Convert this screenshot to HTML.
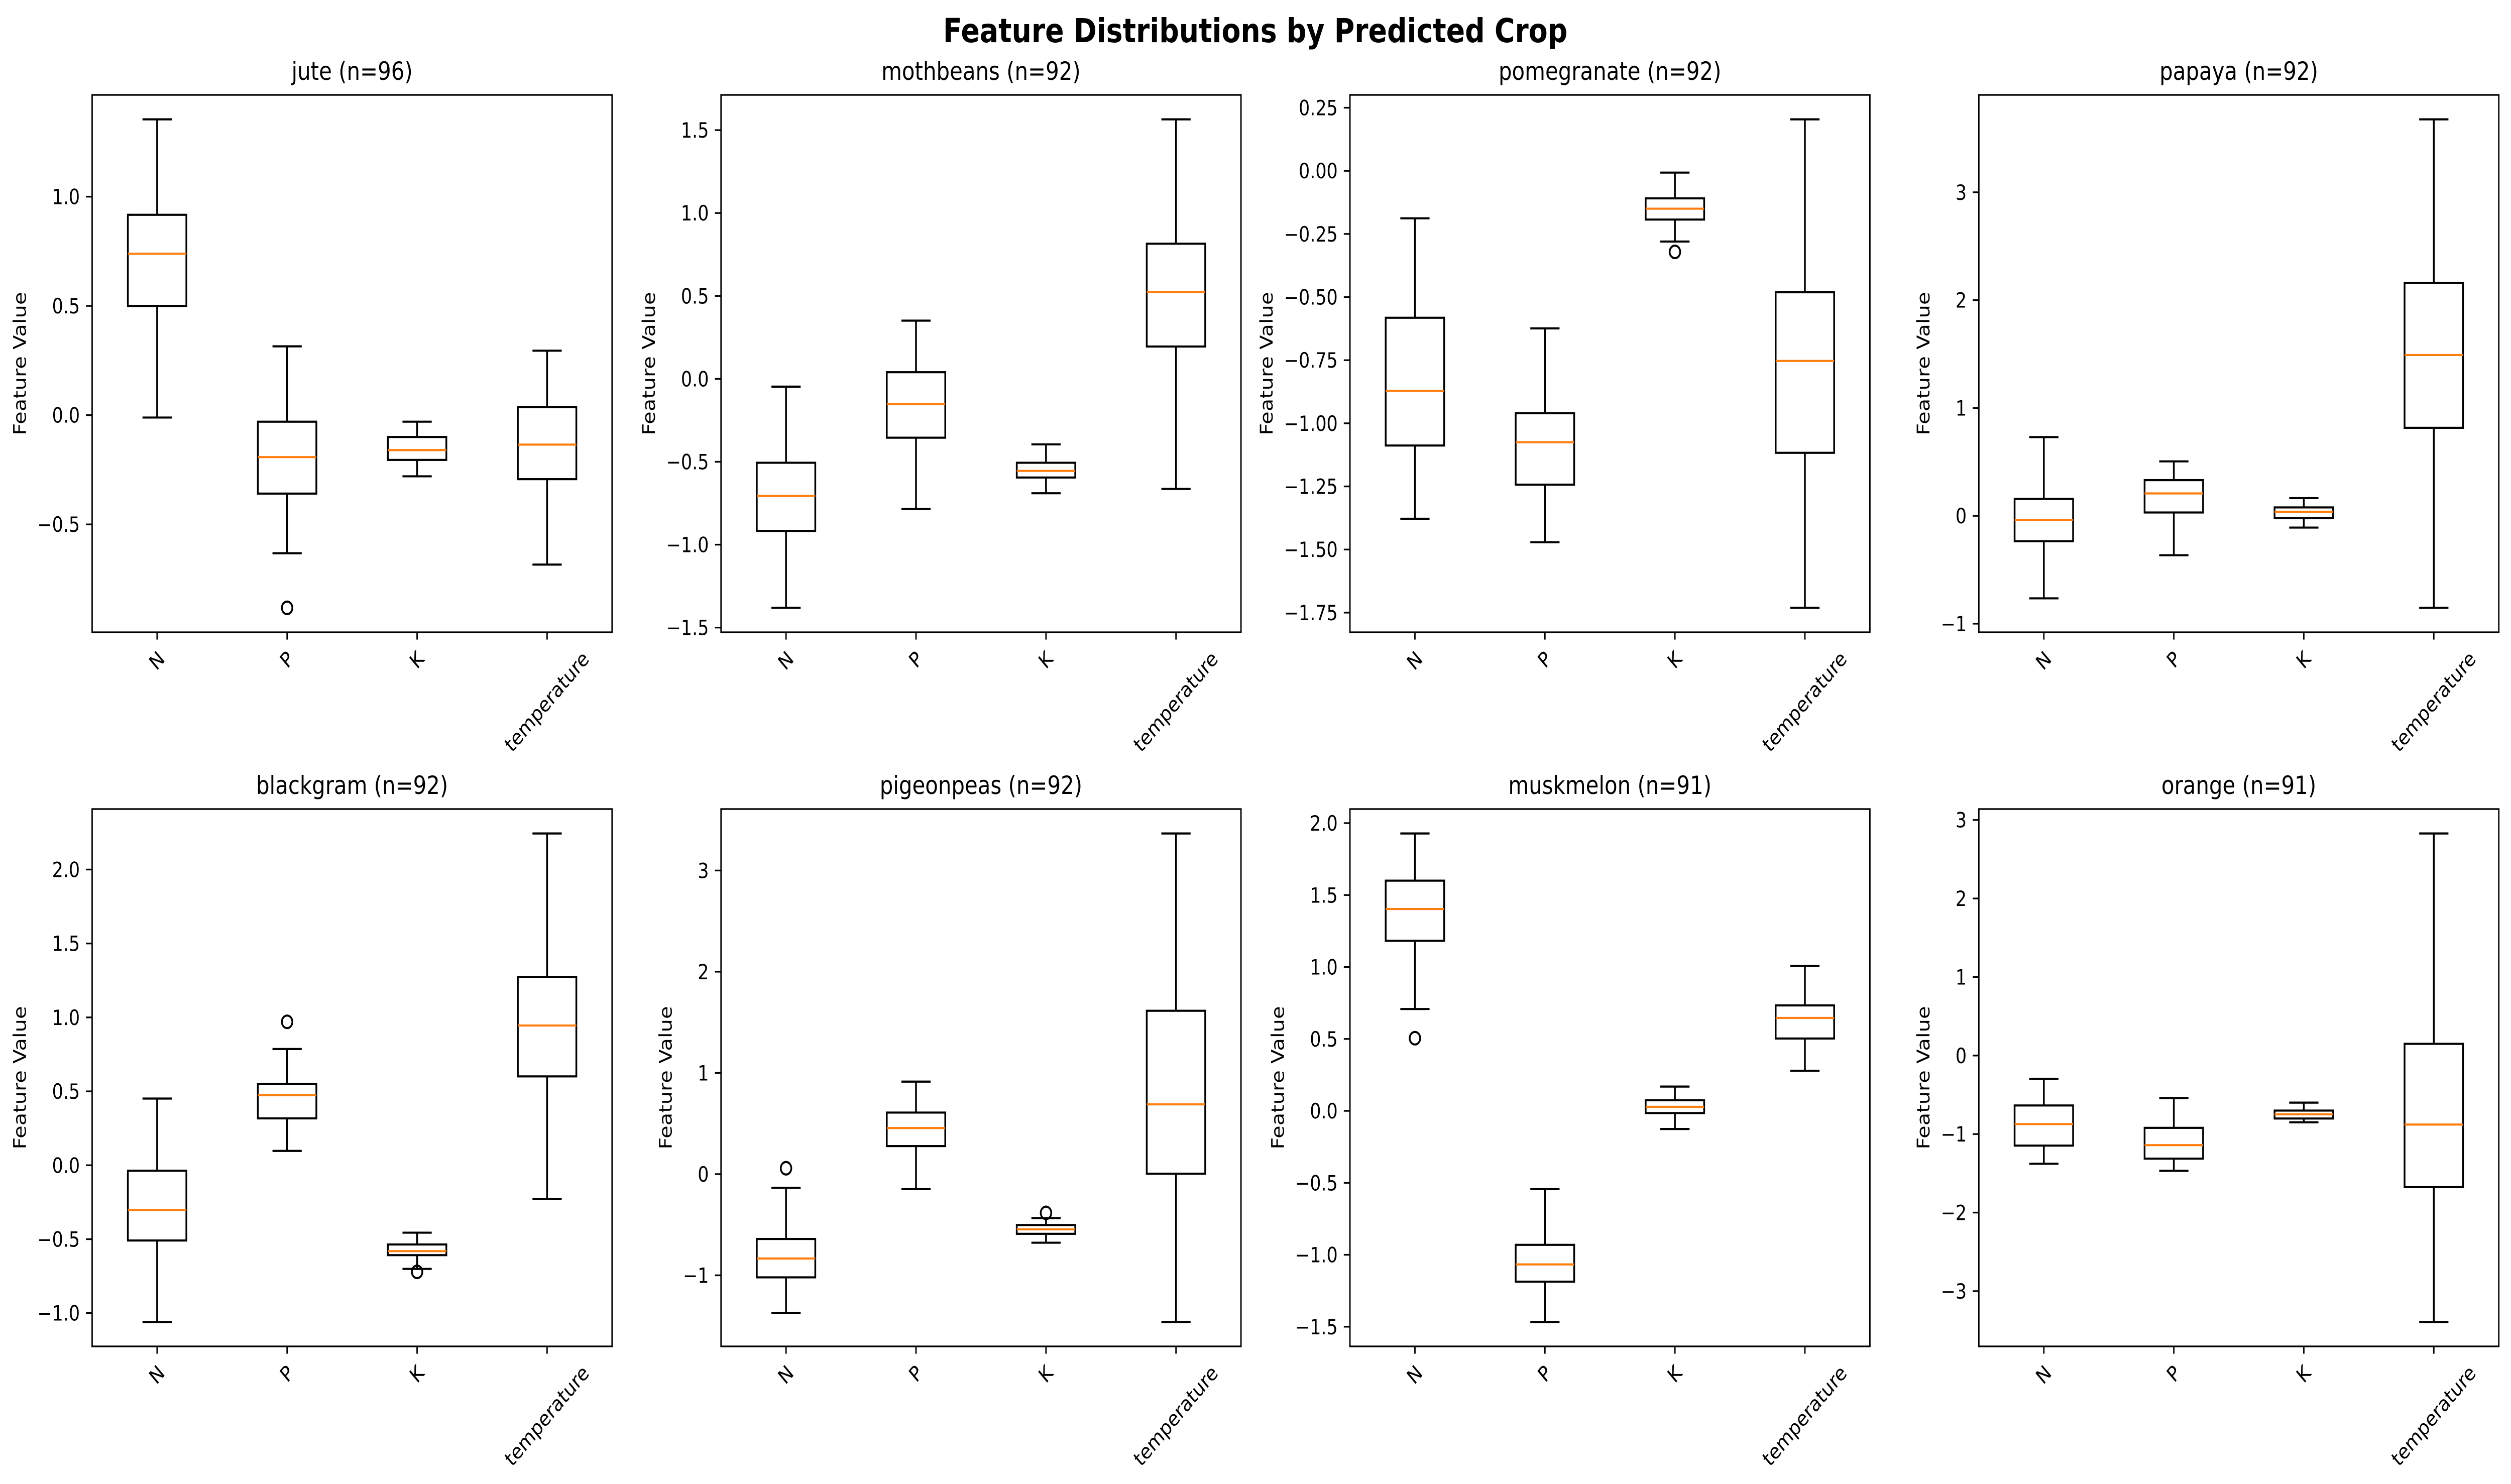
<!DOCTYPE html>
<html><head><meta charset="utf-8"><style>
html,body{margin:0;padding:0;background:#fff;overflow:hidden}
svg{display:block;width:100vw;height:100vh;font-family:"DejaVu Sans","Liberation Sans",sans-serif}
</style></head><body>
<svg id="fig" viewBox="0 0 5969 2955" preserveAspectRatio="none" xmlns="http://www.w3.org/2000/svg">
<rect width="5969" height="2955" fill="#fff"/>
<text x="2984" y="84" text-anchor="middle" font-size="66" font-weight="bold">Feature Distributions by Predicted Crop</text>
</svg>
<script>
const crops = ["jute","mothbeans","pomegranate","papaya","blackgram","pigeonpeas","muskmelon","orange"];
const counts = [96,92,92,92,92,92,91,91];
const features = ["N","P","K","temperature"];
const whiskHi = [[1.354,0.315,-0.03,0.295],[-0.047,0.351,-0.395,1.565],[-0.188,-0.624,-0.007,0.204],[0.730,0.505,0.164,3.676],[0.451,0.786,-0.456,2.244],[-0.135,0.914,-0.434,3.366],[1.928,-0.544,0.169,1.008],[-0.297,-0.541,-0.600,2.828]];
const q3 = [[0.917,-0.03,-0.10,0.037],[-0.506,0.040,-0.506,0.815],[-0.582,-0.960,-0.109,-0.481],[0.157,0.331,0.078,2.160],[-0.037,0.551,-0.536,1.274],[-0.641,0.608,-0.503,1.614],[1.600,-0.931,0.074,0.733],[-0.636,-0.921,-0.701,0.149]];
const med = [[0.739,-0.192,-0.16,-0.135],[-0.706,-0.153,-0.555,0.524],[-0.871,-1.075,-0.150,-0.753],[-0.038,0.208,0.038,1.491],[-0.302,0.474,-0.581,0.945],[-0.834,0.455,-0.546,0.689],[1.403,-1.067,0.028,0.646],[-0.873,-1.141,-0.749,-0.879]];
const q1 = [[0.5,-0.359,-0.205,-0.293],[-0.917,-0.355,-0.595,0.195],[-1.088,-1.243,-0.193,-1.117],[-0.235,0.031,-0.020,0.816],[-0.509,0.317,-0.608,0.601],[-1.020,0.277,-0.590,0.004],[1.182,-1.187,-0.015,0.503],[-1.147,-1.313,-0.802,-1.676]];
const whiskLo = [[-0.011,-0.632,-0.28,-0.684],[-1.381,-0.784,-0.690,-0.664],[-1.378,-1.471,-0.280,-1.731],[-0.765,-0.365,-0.109,-0.853],[-1.060,0.097,-0.701,-0.227],[-1.370,-0.149,-0.678,-1.461],[0.708,-1.467,-0.126,0.279],[-1.378,-1.468,-0.850,-3.393]];
const outliers = [[[],[-0.882],[],[]],[[],[],[],[]],[[],[],[-0.321],[]],[[],[],[],[]],[[],[0.970],[-0.721],[]],[[0.058],[],[-0.383],[]],[[0.505],[],[],[]],[[],[],[],[]]];
const yTicks = [[-0.5,0,0.5,1.0],[-1.5,-1.0,-0.5,0,0.5,1.0,1.5],[-1.75,-1.5,-1.25,-1.0,-0.75,-0.5,-0.25,0,0.25],[-1,0,1,2,3],[-1.0,-0.5,0,0.5,1.0,1.5,2.0],[-1,0,1,2,3],[-1.5,-1.0,-0.5,0,0.5,1.0,1.5,2.0],[-3,-2,-1,0,1,2,3]];
const yDecimals = [1,1,2,0,1,0,1,0];

const NS = "http://www.w3.org/2000/svg";
const svg = document.getElementById("fig");
const colX = [219,1714,3209,4704], rowY = [189,1611], AW = 1236, AH = 1070;
function mk(tag, attrs, parent){ const e=document.createElementNS(NS,tag); for(const k in attrs) e.setAttribute(k,attrs[k]); (parent||svg).appendChild(e); return e; }
function fmt(v,d){ const s=Math.abs(v).toFixed(d); return (v<0?"\u2212":"")+s; }

crops.forEach((crop,p)=>{
  const L = colX[p%4], T = rowY[Math.floor(p/4)], R = L+AW, B = T+AH;
  const g = mk("g",{});
  
  
  let mn=Infinity, mx=-Infinity;
  for(let i=0;i<4;i++){ mn=Math.min(mn,whiskLo[p][i],...outliers[p][i]); mx=Math.max(mx,whiskHi[p][i],...outliers[p][i]); }
  const m=(mx-mn)*0.05, y0=mn-m, y1=mx+m;
  const ys = v => B-(v-y0)/(y1-y0)*AH;
  const xs = v => L+(v-0.5)/4*AW;
  const tt = mk("text",{x:(L+R)/2,y:T-30,"text-anchor":"middle","font-size":50},g);
  tt.textContent = crop+" (n="+counts[p]+")";
  
  
  let maxW=0;
  yTicks[p].forEach(v=>{
    const y=ys(v);
    const tk = mk("line",{x1:L-14.6,x2:L,y1:y,y2:y,stroke:"#000","stroke-width":3.33},g);
    
    
    const t = mk("text",{x:L-29,y:y+15,"text-anchor":"end","font-size":41.7},g);
    t.textContent = fmt(v,yDecimals[p]);
    
    
    maxW=Math.max(maxW,t.getComputedTextLength());
  });
  const yl = mk("text",{"text-anchor":"middle","font-size":41.7,transform:`translate(${L-29-maxW-17-10},${(T+B)/2}) rotate(-90)`},g);
  yl.textContent="Feature Value";
  
  
  features.forEach((f,i)=>{
    const cx=xs(i+1), hw=0.45/4*AW/2, cw=hw/2;
    const bg = mk("g",{stroke:"#000","stroke-width":4.17,fill:"none"},g);
    
    
    mk("line",{x1:cx,x2:cx,y1:ys(q3[p][i]),y2:ys(whiskHi[p][i])},bg);
    mk("line",{x1:cx,x2:cx,y1:ys(q1[p][i]),y2:ys(whiskLo[p][i])},bg);
    mk("line",{x1:cx-cw,x2:cx+cw,y1:ys(whiskHi[p][i]),y2:ys(whiskHi[p][i])},bg);
    mk("line",{x1:cx-cw,x2:cx+cw,y1:ys(whiskLo[p][i]),y2:ys(whiskLo[p][i])},bg);
    mk("rect",{x:cx-hw,y:ys(q3[p][i]),width:2*hw,height:ys(q1[p][i])-ys(q3[p][i])},bg);
    const ml = mk("line",{x1:cx-hw,x2:cx+hw,y1:ys(med[p][i]),y2:ys(med[p][i]),stroke:"#ff7f0e","stroke-width":4.17},g);
    
    
    outliers[p][i].forEach(o=>{
      const c = mk("circle",{cx:cx,cy:ys(o),r:12.5,fill:"none",stroke:"#000","stroke-width":4.17},g);
      
      
    });
    const xt = mk("line",{x1:cx,x2:cx,y1:B,y2:B+14.6,stroke:"#000","stroke-width":3.33},g);
    
    
    const lab = mk("text",{"text-anchor":"middle","font-size":41.7,"dominant-baseline":"central"},g);
    lab.textContent=f;
    
    
    const w = lab.getComputedTextLength(), h=48;
    const cy = B+29+(w+h)*0.7071/2;
    lab.setAttribute("transform",`translate(${cx},${cy}) rotate(-45)`);
  });
  const fr = mk("rect",{x:L,y:T,width:AW,height:AH,fill:"none",stroke:"#000","stroke-width":3.33},g);
  
  
});
</script>
</body></html>
